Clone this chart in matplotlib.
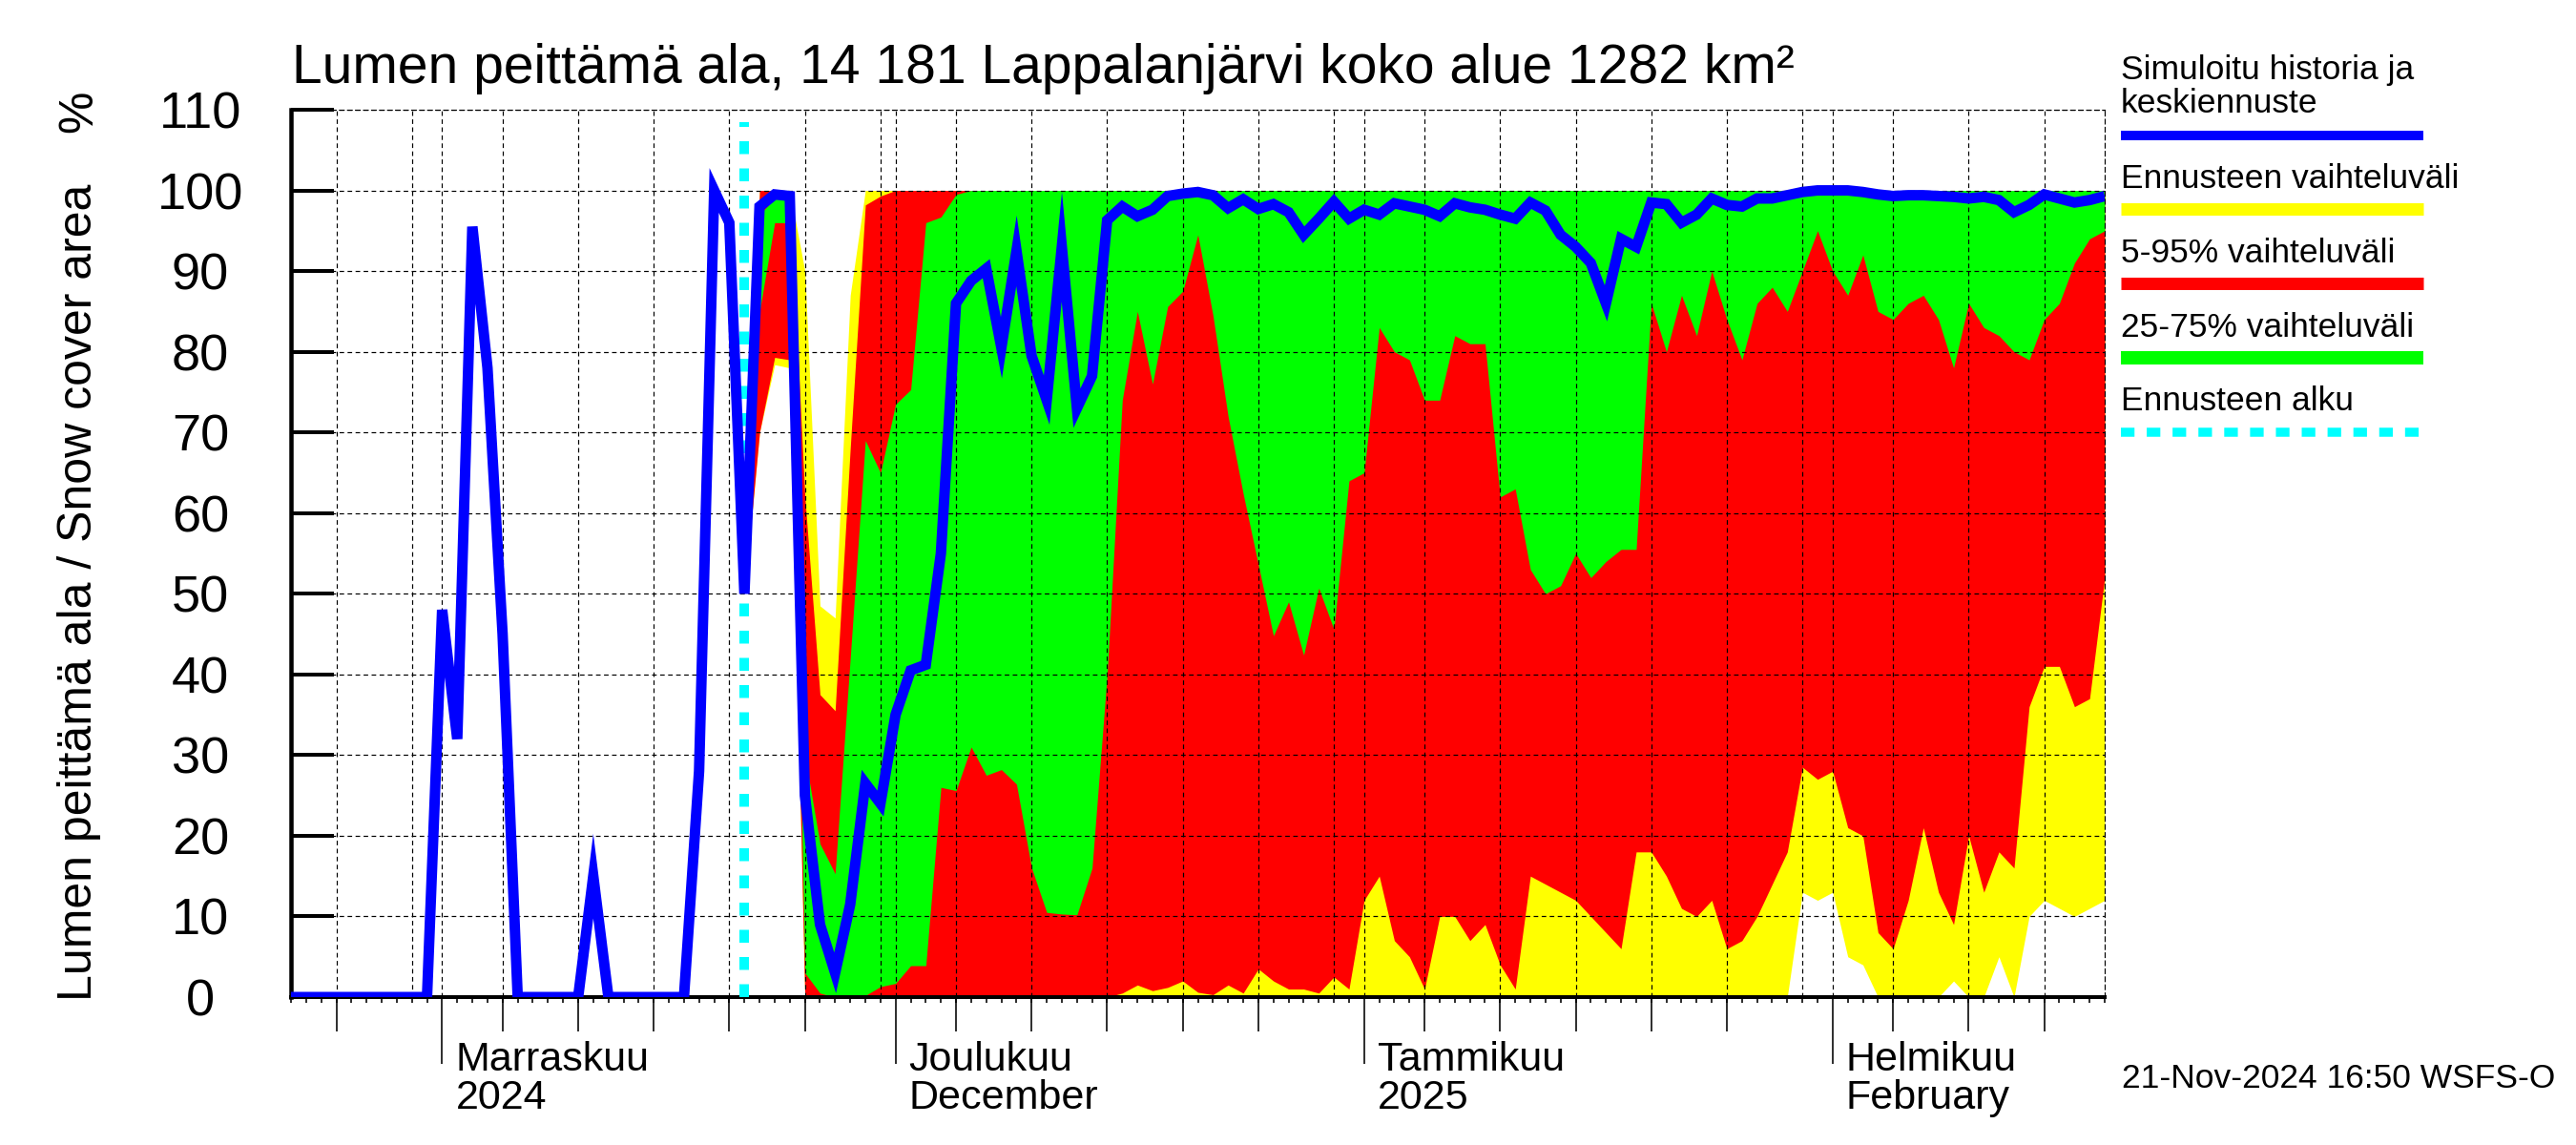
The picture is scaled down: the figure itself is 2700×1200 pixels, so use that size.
import numpy as np
import pandas as pd
import matplotlib
matplotlib.use("Agg")
import matplotlib.pyplot as plt
import matplotlib.dates as mdates

plt.rcParams['font.family'] = ['Liberation Sans', 'DejaVu Sans']

# daily values from 22 Oct 2024 (history until 21 Nov, then median forecast)
start = pd.Timestamp("2024-10-22")
median = [0, 0, 0, 0, 0, 0, 0, 0, 0, 0,
          48, 32, 95.5, 78, 45, 0, 0, 0, 0, 0,
          15, 0, 0, 0, 0, 0, 0, 28, 100, 96,
          50, 98, 99.5, 99.3, 25, 9, 3, 11.5, 26.5, 24,
          35, 40.5, 41.2, 55, 86, 88.8, 90.3, 80.5, 92.5, 79.5,
          74, 93, 73, 77, 96.3, 98, 96.8, 97.6, 99.3, 99.6,
          99.8, 99.4, 97.8, 98.9, 97.7, 98.3, 97.3, 94.5, 96.5, 98.6,
          96.5, 97.6, 97, 98.4, 98, 97.6, 96.8, 98.4, 97.9, 97.6,
          97, 96.5, 98.5, 97.5, 94.5, 93, 91, 86, 94, 93,
          98.5, 98.3, 96, 97, 99, 98.2, 98, 99, 99, 99.4,
          99.8, 100, 100, 100, 99.8, 99.5, 99.3, 99.4, 99.4, 99.3,
          99.2, 99, 99.2, 98.8, 97.3, 98.2, 99.5, 99, 98.5, 98.8,
          99.3]

# forecast spread from 21 Nov 2024 onwards
ens_max = [50, 100, 100, 100, 90, 48.5, 47, 87] + [100] * 83
p95 = [50, 100, 100, 100, 62, 37.5, 35.5, 68, 98.2, 99.3] + [100] * 81
p75 = [50, 97, 99, 99.3, 30, 19, 15.3, 42, 69, 65,
       73.5, 75.3, 96, 96.7, 99.5] + [100] * 76
p25 = [50, 85, 96, 96, 3, 0.5, 0, 0, 0.2, 1.3,
       1.7, 3.9, 3.9, 26, 25.6, 31, 27.5, 28.2, 26.4, 16,
       10.5, 10.3, 10.2, 16, 40, 74, 85, 76, 85.6, 87.5,
       94.5, 84.5, 72, 62.4, 53.6, 44.8, 49, 42.4, 50.7, 45.6,
       64, 65, 83, 80, 79, 74, 74, 82, 81, 81,
       62, 63, 53, 50, 51, 55, 52, 54, 55.5, 55.5,
       86, 80, 87, 82, 90, 84, 79, 86, 88, 85,
       90, 95, 90, 87, 92, 85, 84, 86, 87, 84,
       78, 86, 83, 82, 80, 79, 84, 86, 91, 94,
       95]
p05 = [50, 70, 79.3, 79, 0, 0, 0, 0, 0, 0,
       0, 0, 0, 0, 0, 0, 0, 0, 0, 0,
       0, 0, 0, 0, 0, 0.5, 1.5, 0.8, 1.2, 2,
       0.6, 0.3, 1.5, 0.5, 3.5, 2, 1, 1, 0.5, 2.5,
       1, 12, 15, 7, 5, 1, 10, 10, 7, 9,
       4, 1, 15, 14, 13, 12, 10, 8, 6, 18,
       18, 15, 11, 10, 12, 6, 7, 10, 14, 18,
       28.5, 27, 28, 21, 20, 8, 6, 12, 21, 13,
       9, 20, 13, 18, 16, 36, 41, 41, 36, 37,
       52]
ens_min = [50, 70, 78.4, 78] + [0] * 66 + [13, 12, 13, 5, 4,
           0, 0, 0, 0, 0, 2, 0, 0, 5, 0, 10, 12, 11, 10, 11, 12]

month_names = ["Marraskuu\n2024", "Joulukuu\nDecember", "Tammikuu\n2025", "Helmikuu\nFebruary"]
month_starts = ["2024-11-01", "2024-12-01", "2025-01-01", "2025-02-01"]

days = mdates.date2num(pd.date_range(start, periods=len(median), freq="D"))
fc = days[30:30 + len(p25)]
fc_start = days[30]

W, H = 2700, 1200
PT = 0.72  # points per pixel at dpi 100

fig = plt.figure(figsize=(W / 100, H / 100), dpi=100)
ax = fig.add_axes([305 / W, 1 - 1045 / H, (2206 - 305) / W, (1045 - 115) / H])

ax.fill_between(fc, ens_min, ens_max, color="#ffff00", lw=0, zorder=1)
ax.fill_between(fc, p05, p95, color="#ff0000", lw=0, zorder=1.1)
ax.fill_between(fc, p25, p75, color="#00ff00", lw=0, zorder=1.2)

ax.plot([fc_start, fc_start], [0, 108.5], color="#00ffff", lw=10 * PT,
        ls=(0, (1.35, 1.5)), zorder=3)
ax.plot(days, median, color="#0000ff", lw=11 * PT, solid_joinstyle="miter",
        solid_capstyle="butt", zorder=4)

ax.set_xlim(days[0], days[-1])
ax.set_ylim(0, 110)

# grid
grid_dash = (0, (4, 3))
ax.set_yticks(range(0, 111, 10))
ax.yaxis.grid(True, color="k", lw=1.2 * PT, ls=grid_dash, zorder=2.5)
alldays = pd.date_range(start, periods=len(median), freq="D")
grid_days = [mdates.date2num(d) for d in alldays if d.day in (1, 5, 10, 15, 20, 25, 30)]
ax.vlines(grid_days, 0, 110, colors="k", lw=1.2 * PT, linestyles=grid_dash, zorder=2.5)

for s in ("top", "right"):
    ax.spines[s].set_linestyle(grid_dash)
    ax.spines[s].set_linewidth(1.2 * PT)
ax.spines["left"].set_linewidth(4.5 * PT)
ax.spines["bottom"].set_linewidth(4 * PT)

ax.tick_params(axis="y", direction="in", length=45 * PT, width=4 * PT,
               labelsize=39, pad=95 * PT)
for lab in ax.get_yticklabels():
    lab.set_horizontalalignment("center")

mticks = mdates.date2num(pd.to_datetime(month_starts))
ax.set_xticks(mticks)
ax.set_xticklabels([])
ax.set_xticks(days, minor=True)
ax.tick_params(axis="x", which="major", direction="out", length=70 * PT, width=1.6 * PT)
ax.tick_params(axis="x", which="minor", direction="out", length=6 * PT, width=1.6 * PT)

five = [mdates.date2num(d) for d in alldays if d.day in (5, 10, 15, 20, 25)]
sec = ax.secondary_xaxis("bottom")
sec.set_xticks(five)
sec.tick_params(axis="x", direction="out", length=36 * PT, width=1.6 * PT, labelbottom=False)
sec.spines["bottom"].set_visible(False)

for m, name in zip(mticks, month_names):
    ax.annotate(name, xy=(m, 0), xycoords=("data", "axes fraction"),
                xytext=(14 * PT, -46 * PT), textcoords="offset points",
                ha="left", va="top", fontsize=31, linespacing=1.0)

# titles and labels
fig.text(306 / W, 1 - 87 / H, "Lumen peittämä ala, 14 181 Lappalanjärvi koko alue 1282 km²",
         fontsize=41, ha="left", va="baseline")
fig.text(83 / W, 1 - 621 / H, "Lumen peittämä ala / Snow cover area", rotation=90,
         fontsize=36, ha="center", va="center")
fig.text(83 / W, 1 - 117 / H, "%", rotation=90, fontsize=36, ha="center", va="center")
fig.text(2678 / W, 1 - 1140 / H, "21-Nov-2024 16:50 WSFS-O", fontsize=25.5,
         ha="right", va="baseline")

# legend
lx0, lx1 = 2223 / W, 2540 / W
legend_text = [("Simuloitu historia ja", 83), ("keskiennuste", 118),
               ("Ennusteen vaihteluväli", 197), ("5-95% vaihteluväli", 275),
               ("25-75% vaihteluväli", 353), ("Ennusteen alku", 430)]
legend_lines = [(142, "#0000ff", 10, "-"), (219, "#ffff00", 13, "-"),
                (297, "#ff0000", 13, "-"), (375, "#00ff00", 14, "-"),
                (453, "#00ffff", 9.5, (0, (1.5, 1.35)))]
for text, ty in legend_text:
    fig.text(lx0, 1 - ty / H, text, fontsize=25.5, ha="left", va="baseline")
for ly, col, lw, ls in legend_lines:
    fig.add_artist(plt.Line2D([lx0, lx1], [1 - ly / H, 1 - ly / H], color=col,
                              lw=lw * PT, ls=ls, solid_capstyle="butt", dash_capstyle="butt"))

fig.savefig("out.png", dpi=100)
